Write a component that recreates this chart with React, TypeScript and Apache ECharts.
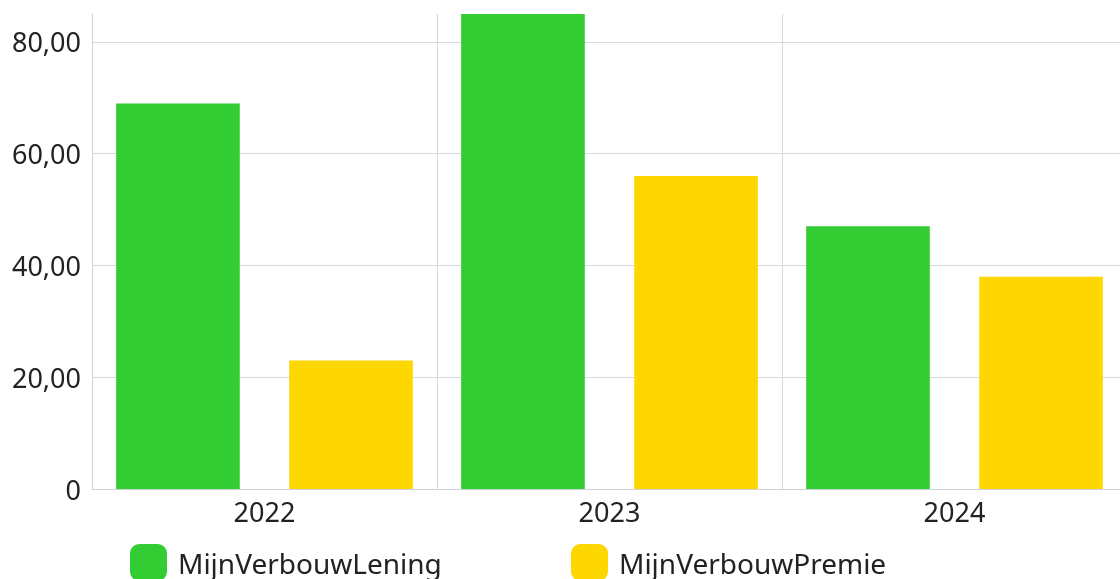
import React, { useEffect, useRef } from "react";
import * as echarts from "echarts";

const categories = ["2022", "2023", "2024"];
const leningValues = [69, 85, 47];
const premieValues = [23, 56, 38];
const seriesNames = ["MijnVerbouwLening", "MijnVerbouwPremie"];
const colors = ["#33cc33", "#ffd700"];

const FONT = "'Noto Sans', 'Open Sans', sans-serif";

export default function App() {
  const ref = useRef<HTMLDivElement>(null);
  useEffect(() => {
    if (!ref.current) return;
    const chart = echarts.init(ref.current, null, { renderer: "svg" });
    const legendBase = {
      top: 544,
      padding: 0,
      itemWidth: 37,
      itemHeight: 37,
      icon: "roundRect",
      textStyle: { fontSize: 28, color: "#222", fontFamily: FONT, padding: [0, 0, 0, 6] },
      selectedMode: false,
    };
    chart.setOption({
      animation: false,
      textStyle: { fontFamily: FONT },
      grid: { left: 92, top: 14, right: 0, bottom: 90, containLabel: false },
      legend: [
        { ...legendBase, data: [seriesNames[0]], left: 130 },
        { ...legendBase, data: [seriesNames[1]], left: 571 },
      ],
      xAxis: {
        type: "category",
        data: categories,
        axisLine: { show: true, lineStyle: { color: "#ccd2da" } },
        axisTick: { show: false },
        axisLabel: { fontSize: 27, color: "#222", margin: 9, fontFamily: FONT },
        splitLine: { show: true, lineStyle: { color: "#d6d9de" } },
      },
      yAxis: {
        type: "value",
        min: 0,
        max: 85,
        interval: 20,
        axisLine: { show: true, lineStyle: { color: "#ccd2da" } },
        axisTick: { show: false },
        axisLabel: {
          fontSize: 27,
          color: "#222",
          margin: 11,
          fontFamily: FONT,
          showMaxLabel: false,
          formatter: (v: number) => (v === 0 ? "0" : v.toFixed(2).replace(".", ",")),
        },
        splitLine: { show: true, showMaxLine: false, lineStyle: { color: "#d6d9de" } },
      },
      series: [
        {
          name: seriesNames[0],
          type: "bar",
          data: leningValues,
          itemStyle: { color: colors[0] },
          barGap: "40%",
          barCategoryGap: "14%",
        },
        {
          name: seriesNames[1],
          type: "bar",
          data: premieValues,
          itemStyle: { color: colors[1] },
          barGap: "40%",
          barCategoryGap: "14%",
        },
      ],
    });
    return () => chart.dispose();
  }, []);
  return (
    <div
      ref={ref}
      style={{ position: "fixed", left: 0, top: 0, width: 1127, height: 579 }}
    />
  );
}
